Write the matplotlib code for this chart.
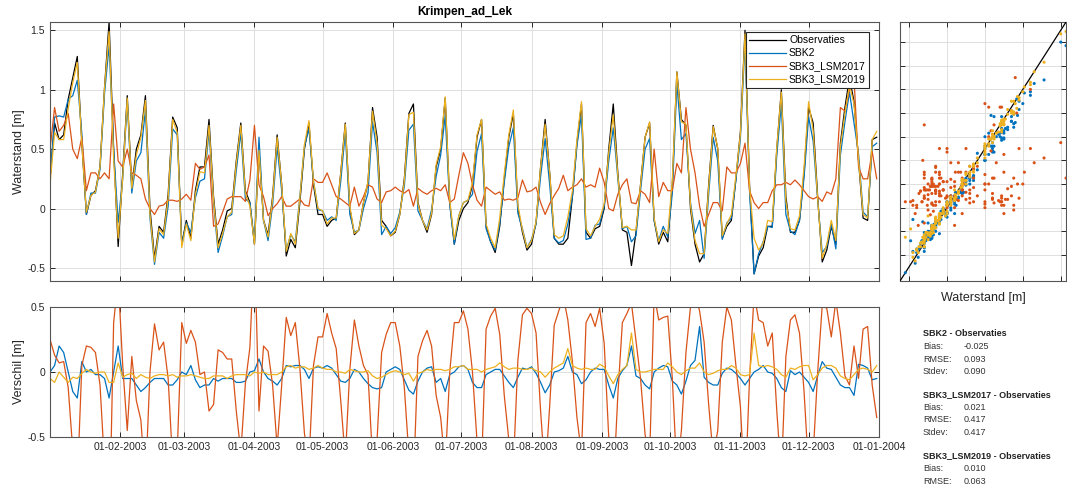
import numpy as np
import pandas as pd
import matplotlib
matplotlib.use('Agg')
import matplotlib.pyplot as plt
from matplotlib.dates import DateFormatter

plt.rcParams['font.family'] = ['Liberation Sans', 'DejaVu Sans']

# daily means every 2 days, from 01-01-2003
start = np.datetime64('2003-01-01')
step_days = 2

obs = [
    0.25, 0.72, 0.58, 0.62, 0.92, 1.10, 1.28, 0.55, -0.05, 0.11,
    0.15, 0.35, 1.02, 1.57, 0.50, -0.32, 0.30, 0.95, 0.18, 0.50,
    0.62, 0.95, 0.00, -0.42, -0.15, -0.20, 0.12, 0.77, 0.68, -0.30,
    -0.10, -0.25, 0.15, 0.35, 0.35, 0.75, 0.10, -0.30, -0.18, -0.02,
    0.00, 0.40, 0.72, 0.15, 0.05, -0.30, 0.50, -0.10, -0.22, 0.10,
    0.62, 0.20, -0.40, -0.26, -0.33, 0.05, 0.50, 0.72, 0.20, -0.05,
    -0.05, -0.15, -0.10, -0.08, 0.30, 0.72, 0.00, -0.22, -0.18, 0.05,
    0.22, 0.85, 0.60, -0.10, -0.15, -0.23, -0.20, -0.05, 0.25, 0.80,
    0.88, 0.05, -0.10, -0.20, -0.05, 0.35, 0.50, 0.93, 0.05, -0.30,
    -0.10, 0.00, 0.05, 0.20, 0.60, 0.75, -0.15, -0.28, -0.37, -0.15,
    0.25, 0.60, 0.80, 0.00, -0.20, -0.35, -0.30, -0.12, 0.35, 0.75,
    0.30, -0.25, -0.30, -0.30, -0.25, 0.10, 0.55, 0.88, -0.20, -0.25,
    -0.17, -0.15, 0.00, 0.50, 0.88, 0.30, -0.18, -0.20, -0.48, -0.20,
    0.20, 0.60, 0.72, -0.10, -0.30, -0.20, -0.28, 0.20, 1.15, 0.75,
    0.70, 0.00, -0.30, -0.45, -0.38, 0.20, 0.70, 0.50, -0.25, -0.15,
    -0.10, 0.25, 0.65, 1.50, 0.20, -0.55, -0.40, -0.33, -0.15, -0.15,
    0.50, 1.00, 0.10, -0.20, -0.20, -0.10, 0.30, 0.85, 0.72, 0.10,
    -0.45, -0.35, -0.15, -0.30, 0.55, 0.85, 1.10, 0.90, 0.40, -0.08,
    -0.10, 0.58, 0.60,
]

# SBK2 minus observations
diff_sbk2 = [
    0.00, 0.05, 0.20, 0.15, 0.00, -0.15, -0.20, 0.08, 0.00, 0.02,
    -0.02, -0.02, -0.05, -0.20, 0.00, 0.20, -0.05, -0.05, -0.05, -0.10,
    -0.15, -0.12, -0.08, -0.05, -0.05, -0.05, -0.10, -0.10, -0.06, 0.00,
    -0.02, 0.05, -0.06, -0.12, -0.10, -0.10, -0.05, -0.07, -0.05, -0.05,
    -0.05, -0.08, -0.08, -0.07, 0.00, 0.01, 0.10, 0.00, -0.05, -0.07,
    -0.10, -0.05, 0.05, 0.04, 0.05, 0.05, 0.02, -0.05, 0.03, 0.04,
    0.03, 0.05, 0.03, -0.02, -0.07, -0.08, -0.05, 0.02, 0.00, -0.05,
    -0.09, -0.12, -0.13, -0.12, 0.00, 0.02, 0.04, 0.02, -0.06, -0.14,
    -0.17, -0.07, 0.00, 0.03, 0.04, -0.08, -0.05, -0.15, -0.02, 0.00,
    0.04, 0.05, 0.02, -0.08, -0.12, -0.12, -0.02, 0.00, 0.02, 0.02,
    -0.03, -0.08, -0.12, -0.04, 0.03, 0.02, 0.04, -0.01, -0.08, -0.16,
    -0.10, 0.00, 0.01, 0.03, 0.12, 0.00, -0.02, -0.09, -0.06, 0.00,
    0.03, 0.02, 0.02, -0.10, -0.20, -0.05, 0.01, 0.05, 0.20, -0.03,
    -0.05, -0.10, -0.13, 0.00, 0.03, 0.05, 0.04, -0.07, -0.10, -0.17,
    -0.07, 0.05, 0.09, 0.35, -0.04, -0.08, -0.10, -0.10, -0.01, 0.03,
    0.02, -0.01, -0.05, -0.10, -0.05, 0.00, 0.02, 0.05, 0.00, -0.01,
    -0.05, -0.12, -0.15, 0.01, -0.02, 0.00, -0.04, -0.08, -0.15, -0.03,
    0.08, 0.03, 0.02, -0.04, -0.10, -0.12, -0.12, -0.18, 0.06, 0.05,
    0.03, -0.06, -0.05,
]

# SBK3_LSM2019 minus observations
diff_lsm2019 = [
    -0.05, -0.08, 0.00, -0.04, -0.08, -0.04, -0.05, -0.01, 0.02, 0.00,
    -0.01, 0.00, 0.00, -0.08, -0.08, 0.07, -0.04, -0.02, -0.01, -0.05,
    -0.02, -0.04, -0.05, -0.03, -0.02, -0.02, -0.03, -0.02, -0.04, -0.03,
    -0.03, -0.02, -0.03, -0.04, -0.05, -0.05, -0.03, -0.03, -0.03, -0.05,
    -0.03, -0.02, -0.02, -0.02, -0.03, 0.00, -0.01, 0.00, -0.02, -0.02,
    -0.02, 0.00, 0.04, 0.05, 0.03, 0.04, 0.04, 0.02, 0.03, 0.05,
    0.03, 0.02, 0.02, 0.00, 0.00, -0.01, 0.02, 0.01, 0.00, 0.00,
    0.01, -0.03, -0.05, -0.04, -0.02, 0.00, 0.01, 0.00, -0.02, -0.01,
    -0.07, -0.01, 0.00, 0.02, 0.01, 0.02, 0.02, 0.01, 0.02, 0.04,
    0.04, 0.05, 0.02, 0.02, 0.02, 0.00, 0.02, 0.03, 0.04, 0.07,
    0.04, 0.02, 0.03, 0.03, 0.02, 0.02, 0.03, 0.01, 0.00, -0.04,
    0.00, 0.03, 0.05, 0.07, 0.18, 0.05, 0.03, 0.02, 0.03, 0.02,
    0.02, 0.06, 0.04, -0.03, -0.09, -0.02, 0.02, 0.05, 0.30, 0.02,
    0.00, 0.00, 0.01, 0.02, 0.02, 0.02, 0.07, 0.04, 0.00, -0.02,
    0.01, 0.03, 0.03, 0.07, 0.00, -0.02, -0.01, 0.01, 0.02, 0.02,
    0.05, 0.03, -0.02, -0.03, -0.02, 0.30, 0.05, 0.04, 0.05, 0.04,
    0.02, -0.02, -0.04, 0.03, 0.02, 0.04, 0.05, 0.05, -0.06, -0.02,
    0.03, 0.05, 0.05, 0.03, -0.03, -0.05, -0.06, -0.02, 0.02, 0.03,
    0.02, 0.00, 0.05,
]

# SBK3_LSM2017 water levels
lsm2017 = [
    0.50, 0.85, 0.65, 0.70, 0.80, 0.50, 0.42, 0.60, 0.15, 0.30,
    0.30, 0.25, 0.30, 0.25, 0.88, 0.40, 0.35, 0.50, 0.30, 0.28,
    0.25, 0.08, 0.00, -0.05, 0.02, 0.03, 0.07, 0.07, 0.06, 0.08,
    0.12, 0.07, 0.38, 0.33, 0.35, 0.45, -0.15, -0.13, -0.03, 0.08,
    0.10, 0.10, 0.10, 0.06, 0.24, 0.70, 0.20, 0.10, -0.06, 0.00,
    0.04, 0.10, 0.02, 0.02, 0.05, 0.08, 0.03, 0.02, 0.25, 0.22,
    0.22, 0.30, 0.20, 0.10, 0.08, 0.05, 0.02, 0.18, 0.02, 0.10,
    0.20, 0.18, 0.08, 0.05, 0.14, 0.15, 0.18, 0.15, 0.13, 0.16,
    0.02, 0.17, 0.14, 0.12, 0.15, 0.17, 0.15, 0.20, 0.05, 0.08,
    0.28, 0.47, 0.38, 0.20, 0.07, 0.02, 0.18, 0.15, 0.12, 0.14,
    0.07, 0.08, 0.07, 0.09, 0.24, 0.14, 0.15, 0.18, 0.05, -0.05,
    0.04, 0.11, 0.17, 0.28, 0.15, 0.18, 0.20, 0.25, 0.18, 0.20,
    0.18, 0.34, 0.22, 0.00, -0.02, 0.12, 0.20, 0.25, 0.05, 0.04,
    0.15, 0.12, 0.05, 0.50, 0.10, 0.22, 0.15, 0.15, 0.38, 0.30,
    0.85, 0.50, 0.30, 0.02, -0.15, -0.05, 0.05, 0.05, -0.02, 0.35,
    0.30, 0.30, 0.38, 0.55, 0.15, 0.05, 0.00, 0.05, 0.05, 0.15,
    0.20, 0.20, 0.22, 0.20, 0.24, 0.20, 0.15, 0.10, 0.08, 0.10,
    0.06, 0.14, 0.12, 0.25, 0.85, 0.82, 1.00, 1.10, 0.35, 0.25,
    0.25, 0.48, 0.25,
]

stats = {
    'SBK2': ('-0.025', '0.093', '0.090'),
    'SBK3_LSM2017': ('0.021', '0.417', '0.417'),
    'SBK3_LSM2019': ('0.010', '0.063', '0.060'),
}

c_obs = '#000000'
c_sbk2 = '#0072BD'
c_2017 = '#D95319'
c_2019 = '#EDB120'
axcol = '#262626'

obs = np.array(obs)
t = start + np.arange(len(obs)) * np.timedelta64(step_days, 'D')
t = t.astype('datetime64[ns]')
sbk2 = obs + np.array(diff_sbk2)
lsm2019 = obs + np.array(diff_lsm2019)
lsm2017 = np.array(lsm2017)

fig = plt.figure(figsize=(10.67, 4.88), dpi=100)
ax1 = fig.add_axes([0.0469, 0.4242, 0.7769, 0.5307])
ax2 = fig.add_axes([0.0469, 0.1045, 0.7769, 0.2664])
ax3 = fig.add_axes([0.8435, 0.4242, 0.1556, 0.5307])

months = pd.date_range('2003-02-01', '2004-01-01', freq='MS')
xlim = (np.datetime64('2003-01-01'), np.datetime64('2004-01-01'))

lw = 0.9
ax1.plot(t, obs, color=c_obs, lw=lw, label='Observaties')
ax1.plot(t, sbk2, color=c_sbk2, lw=lw, label='SBK2')
ax1.plot(t, lsm2017, color=c_2017, lw=lw, label='SBK3_LSM2017')
ax1.plot(t, lsm2019, color=c_2019, lw=lw, label='SBK3_LSM2019')
ax1.set_ylim(-0.61, 1.57)
ax1.set_yticks([-0.5, 0, 0.5, 1, 1.5])
ax1.set_yticklabels(['-0.5', '0', '0.5', '1', '1.5'])
ax1.set_ylabel('Waterstand [m]', fontsize=9, color=axcol, labelpad=1.5)
ax1.set_title('Krimpen_ad_Lek', fontsize=8.5, fontweight='bold', pad=5)
ax1.legend(loc='upper right', bbox_to_anchor=(0.988, 0.961), borderaxespad=0,
           fontsize=7.5, handlelength=3.5, handletextpad=0.3, labelspacing=0.3,
           borderpad=0.3, fancybox=False, framealpha=1, edgecolor=axcol)
ax1.get_legend().get_frame().set_linewidth(0.8)

ax2.plot(t, sbk2 - obs, color=c_sbk2, lw=lw)
ax2.plot(t, lsm2017 - obs, color=c_2017, lw=lw)
ax2.plot(t, lsm2019 - obs, color=c_2019, lw=lw)
ax2.set_ylim(-0.5, 0.5)
ax2.set_yticks([-0.5, 0, 0.5])
ax2.set_yticklabels(['-0.5', '0', '0.5'])
ax2.set_ylabel('Verschil [m]', fontsize=9, color=axcol, labelpad=1.5)
ax2.xaxis.set_major_formatter(DateFormatter('%d-%m-%Y'))

for ax in (ax1, ax2):
    ax.set_xlim(xlim)
    ax.set_xticks(months)
    ax.grid(True, color='#dedede', lw=0.7)
    ax.set_axisbelow(True)
ax1.tick_params(labelbottom=False)

# scatter: model against observations
lim = (-0.62, 1.57)
ax3.plot(lim, lim, color='k', lw=0.9, zorder=3)
ax3.scatter(obs, sbk2, s=5, color=c_sbk2, edgecolors='none', zorder=4)
ax3.scatter(obs, lsm2017, s=5, color=c_2017, edgecolors='none', zorder=4)
ax3.scatter(obs, lsm2019, s=5, color=c_2019, edgecolors='none', zorder=4)
ax3.set_xlim(lim)
ax3.set_ylim(lim)
ax3.set_xticks([-0.5, 0, 0.5, 1, 1.5])
ax3.set_yticks(np.round(np.arange(-0.4, 1.5, 0.2), 1))
ax3.grid(True, color='#dedede', lw=0.7)
ax3.set_axisbelow(True)
ax3.tick_params(labelleft=False, labelbottom=False)
ax3.set_xlabel('Waterstand [m]', fontsize=9, color=axcol, labelpad=8)

for ax in (ax1, ax2, ax3):
    ax.tick_params(direction='in', top=True, right=True, length=3.5, width=0.7,
                   labelsize=7.5, colors=axcol)
    for s in ax.spines.values():
        s.set_color('#555555')
        s.set_linewidth(0.8)

# statistics
y0 = 1 - 334 / 488
dy = 12.5 / 488
block = 61 / 488
for i, (name, (bias, rmse, sd)) in enumerate(stats.items()):
    y = y0 - i * block
    fig.text(0.865, y, f'{name} - Observaties', fontsize=6.5, fontweight='bold',
             va='center', color='#222222')
    for j, (lab, val) in enumerate([('Bias:', bias), ('RMSE:', rmse), ('Stdev:', sd)]):
        fig.text(0.865, y - (j + 1) * dy, lab, fontsize=6.5, va='center', color='#333333')
        fig.text(0.9035, y - (j + 1) * dy, val, fontsize=6.5, va='center', color='#333333')

fig.savefig('out.png', dpi=100)
